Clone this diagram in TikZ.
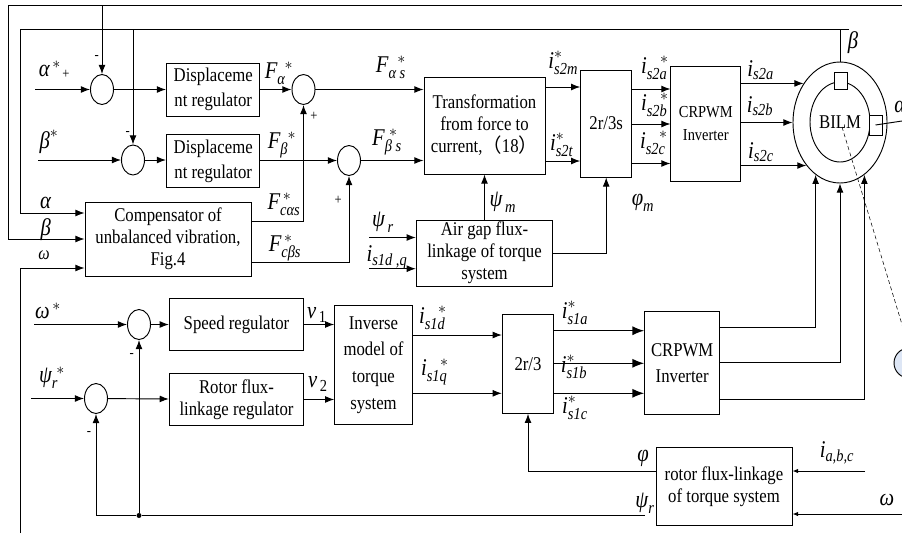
\documentclass[tikz,border=0pt]{standalone}
\usepackage{amsmath}
\usepackage{fontspec}
\setmainfont{Liberation Serif}[FakeStretch=0.86]
\newfontfamily\cjk{Noto Sans CJK SC}
\usetikzlibrary{arrows.meta,positioning,shapes.geometric}
\definecolor{BubbleBlue}{HTML}{DDE6F5}
\newcommand{\symb}[1]{\textit{#1}}
\begin{document}
\begin{tikzpicture}[
        x=0.75pt,y=-0.75pt,
        line width=0.7pt,
        boxsize/.style 2 args={minimum width=#1*0.75pt,minimum height=#2*0.75pt},
        box/.style={draw,inner sep=0pt,align=center,font=\fontsize{14.6}{16.5}\selectfont},
        sumnode/.style={draw,ellipse,inner sep=0pt,boxsize={23}{30}},
        lab/.style={inner sep=0pt,font=\fontsize{18}{18}\selectfont},
        sign/.style={inner sep=0pt,font=\fontsize{11}{11}\selectfont},
        arr/.style={-{Latex[length=2.4mm,width=1.8mm]}},
        arrs/.style={-{Latex[length=1.5mm,width=1.2mm]}},
        arrb/.style={-{Latex[length=3.1mm,width=2.4mm]},line width=1.1pt},
        dashline/.style={densely dashed,line width=0.4pt}
      ]
        \useasboundingbox (0,0) rectangle (902,533);
        \clip (0,0) rectangle (902,533);
        \coordinate (outerNW) at (8,5.5);
        \coordinate (outerNE) at (902,5.5);
        \coordinate (innerNW) at (20.5,29);
        \coordinate (innerNE) at (849,29);
        \coordinate (omegaFoot) at (20.5,533);
        \coordinate (alphaIn) at (35,89.5);
        \coordinate (betaIn) at (38,160);
        \coordinate (psiIn) at (369,237.5);
        \coordinate (iqIn) at (369,268.7);
        \coordinate (omegaRef) at (34,324.5);
        \coordinate (psiRef) at (31,398.5);
        \coordinate (psiEnd) at (645,515.5);
        \coordinate (iabcIn) at (865,471);
        \coordinate (omegaIn) at (902,514);
        \coordinate (alphaOut) at (902,121);

        \node[sumnode] (sumA) at (102,89.5) {};
        \node[sumnode] (sumB) at (133,160) {};
        \node[sumnode] (sumFa) at (303.5,89.5) {};
        \node[sumnode] (sumFb) at (349,160.5) {};
        \node[sumnode] (sumS) at (139,324.5) {};
        \node[sumnode] (sumR) at (96,398.5) {};

        \node[box,boxsize={93.5}{53},font=\fontsize{14.6}{19}\selectfont] (disp1) at (213.2,89.5) {Displaceme\\nt regulator};
        \node[box,boxsize={93.5}{53},font=\fontsize{14.6}{19}\selectfont,below=13.5pt of disp1] (disp2) {Displaceme\\nt regulator};
        \node[box,boxsize={166}{74}] (comp) at (168,239) {Compensator of\\unbalanced vibration,\\Fig.4};
        \node[box,boxsize={121}{97}] (transform) at (484.5,125.5) {Transformation\\from force to\\current,{\cjk （}18{\cjk ）}};
        \node[box,boxsize={136.5}{66}] (airgap) at (484.5,253) {Air gap flux-\\linkage of torque\\system};
        \node[box,boxsize={51}{107}] (r2s) at (606.2,123.5) {2r/3s};
        \node[box,boxsize={69.7}{115},font=\fontsize{12.6}{17}\selectfont] (crpA) at (705.8,123.5) {CRPWM\\Inverter};
        \node[box,boxsize={134.4}{52.7}] (speed) at (236.5,324.5) {Speed regulator};
        \node[box,boxsize={134.4}{52.7},below=16pt of speed] (rotorReg) {Rotor flux-\\linkage regulator};
        \node[box,boxsize={77.6}{118.6},font=\fontsize{14.6}{20}\selectfont] (inverse) at (373.5,365) {Inverse\\model of\\torque\\system};
        \node[box,boxsize={51.4}{99}] (r23) at (528,363.8) {2r/3};
        \node[box,boxsize={75}{103.3},font=\fontsize{14.6}{20}\selectfont] (crpB) at (682.2,363.3) {CRPWM\\Inverter};
        \node[box,boxsize={136}{78}] (rotorEst) at (724,486.7) {rotor flux-linkage\\of torque system};

        \node[draw,ellipse,inner sep=0pt,boxsize={94}{121}] (motor) at (840,122.5) {};
        \node[draw,ellipse,inner sep=0pt,boxsize={60}{80},font=\fontsize{14.6}{15}\selectfont] (motorIn) at (840,122) {BILM};
        \node[draw,fill=white,inner sep=0pt,boxsize={13}{17}] (slotTop) at (840.5,80.5) {};
        \node[draw,fill=white,inner sep=0pt,boxsize={13}{20}] (slotRight) at (875.5,125) {};
        \node[draw,circle,fill=BubbleBlue,inner sep=0pt,boxsize={30}{30}] (bubble) at (909,363) {};
        \node[circle,fill=black,inner sep=0pt,boxsize={5}{5}] (fbDot) at (sumS.south|-psiEnd) {};

        \draw (outerNE) -- (outerNW);
        \draw[arr] (outerNW) |- (comp.west|-0,239);
        \draw (innerNE) -- (innerNW);
        \draw[arr] (innerNW) |- (comp.west|-0,213);
        \draw[arr] (omegaFoot) |- (comp.west|-0,268);
        \draw[arr] (sumA.north|-outerNW) -- (sumA.north);
        \draw[arr] (sumB.north|-innerNW) -- (sumB.north);
        \draw (motor.north) -- (motor.north|-innerNW);
        \draw (slotRight.center) -- (alphaOut);
        \draw[dashline] ([shift={(2,5)}]motorIn.center) -- (bubble.north);

        \draw[arr] (alphaIn) -- (sumA);
        \draw[arr] (sumA) -- (disp1);
        \draw[arr] (disp1) -- (sumFa);
        \draw[arr] (sumFa) -- (transform.west|-sumFa);
        \draw[arr] (betaIn) -- (sumB);
        \draw[arr] (sumB) -- (disp2.west|-sumB);
        \draw[arr] (disp2.east|-sumFb) -- (sumFb);
        \draw[arr] (sumFb) -- (transform.west|-sumFb);
        \draw[arr] (comp.east|-0,221.5) -| (sumFa.south);
        \draw[arr] (comp.east|-0,262) -| (sumFb.south);
        \draw[arr] (psiIn) -- (airgap.west|-psiIn);
        \draw[arr] (iqIn) -- (airgap.west|-iqIn);
        \draw[arr] (airgap.north) -- (transform.south);
        \draw[arr] (airgap.east) -| (r2s.south);
        \draw[arr] (transform.east|-0,87) -- (r2s.west|-0,87);
        \draw[arr] (transform.east|-0,161) -- (r2s.west|-0,161);
        \draw[arr] (r2s.east|-0,89) -- (crpA.west|-0,89);
        \draw[arr] (r2s.east|-0,124) -- (crpA.west|-0,124);
        \draw[arr] (r2s.east|-0,163.5) -- (crpA.west|-0,163.5);
        \draw[arr] (crpA.east|-motor.133) -- (motor.133);
        \draw[arr] (crpA.east|-motor.west) -- (motor.west);
        \draw[arr] (crpA.east|-motor.232) -- (motor.232);

        \draw[arr] (omegaRef) -- (sumS);
        \draw[arr] (sumS) -- (speed);
        \draw[arr] (psiRef) -- (sumR);
        \draw[arr] (sumR) -- (rotorReg);
        \draw[arr] (speed.east) -- (inverse.west|-speed);
        \draw[arr] (rotorReg.east) -- (inverse.west|-rotorReg);
        \draw[arr] (inverse.east|-0,335) -- (r23.west|-0,335);
        \draw[arr] (inverse.east|-0,393.3) -- (r23.west|-0,393.3);
        \draw[arrb] (r23.east|-0,330.7) -- (crpB.west|-0,330.7);
        \draw[arrb] (r23.east|-0,363.3) -- (crpB.west|-0,363.3);
        \draw[arrb] (r23.east|-0,393.3) -- (crpB.west|-0,393.3);
        \draw[arr] (crpB.east|-0,327.3) -| (motor.245);
        \draw[arr] (crpB.east|-0,362.7) -| (motor.south);
        \draw[arr] (crpB.east|-0,399.3) -| (motor.295);
        \draw[arr] (rotorEst.west|-0,471) -| (r23.south);
        \draw[arrs] (iabcIn) -- (rotorEst.east|-iabcIn);
        \draw[arrs] (omegaIn) -- (rotorEst.east|-omegaIn);
        \draw (psiEnd) -- (fbDot);
        \draw[arr] (fbDot) -| (sumR.south);
        \draw[arr] (fbDot) -- (sumS.south);

        \node[lab] (lAlphaRef) at (50,69) {$\symb{α}^{\,*}$};
        \node[sign] (pA) at (66,74) {+};
        \node[sign] (mA) at (96.7,57.3) {-};
        \node[lab] (lFa) at (279,73) {$\symb{F}_{\symb{α}}^{\;\,*}$};
        \node[sign] (pFa) at (314,116.7) {+};
        \node[lab] (lFas) at (391,67) {$\symb{F}_{\symb{α s}}^{\;\;*}$};
        \node[lab] (lBetaRef) at (49,142) {$\symb{β}^{*}$};
        \node[sign] (mB) at (127.7,133) {-};
        \node[lab] (lFb) at (282,145) {$\symb{F}_{\symb{β}}^{\;\,*}$};
        \node[lab] (lFbs) at (387,142) {$\symb{F}_{\symb{β s}}^{\;*}$};
        \node[lab] (lFca) at (284,204) {$\symb{F}_{\symb{cαs}}^{\,*}$};
        \node[lab] (lFcb) at (285,248) {$\symb{F}_{\symb{cβs}}^{\,*}$};
        \node[sign] (pFb) at (338.3,200) {+};
        \node[lab] (lAlpha) at (45.7,203) {\symb{α}};
        \node[lab] (lBeta) at (45.7,230) {\symb{β}};
        \node[lab,font=\fontsize{14}{14}\selectfont] (lOmega) at (44,255) {\symb{ω}};
        \node[lab] (lPsi) at (383,222) {$\symb{ψ}_{\,\symb{r}}$};
        \node[lab] (liq) at (387,257) {$\symb{i}_{\symb{s1d ,q}}$};
        \node[lab] (lPsim) at (503,202) {$\symb{ψ}_{\,\symb{m}}$};
        \node[lab] (lis2m) at (563.3,63) {$\symb{i}_{\symb{s2m}}^{*}$};
        \node[lab] (lis2t) at (561.7,145) {$\symb{i}_{\symb{s2t}}^{*}$};
        \node[lab] (lis2as) at (655,68) {$\symb{i}_{\symb{s2a}}^{\;\;\;*}$};
        \node[lab] (lis2bs) at (655,105) {$\symb{i}_{\symb{s2b}}^{\;\;\;*}$};
        \node[lab] (lis2cs) at (654,143) {$\symb{i}_{\symb{s2c}}^{\;\;\;*}$};
        \node[lab] (lis2a) at (760.7,70) {$\symb{i}_{\symb{s2a}}$};
        \node[lab] (lis2b) at (760,106) {$\symb{i}_{\symb{s2b}}$};
        \node[lab] (lis2c) at (761,152) {$\symb{i}_{\symb{s2c}}$};
        \node[lab] (lBetaM) at (853,43) {\symb{β}};
        \node[lab,anchor=west] (lAlphaM) at (894,107) {\symb{α}};
        \node[lab] (lPhim) at (643,203) {$\symb{φ}_{\symb{m}}$};

        \node[lab] (lOmegaRef) at (48,311) {$\symb{ω}^{\,*}$};
        \node[lab] (lPsiRef) at (52,378) {$\symb{ψ}_{\symb{r}}^{\;*}$};
        \node[sign] (mS) at (131.7,355) {-};
        \node[sign] (mR) at (89,433) {-};
        \node[lab] (lv1) at (317,315) {$\symb{v}_{\,\text{1}}$};
        \node[lab] (lv2) at (318,384) {$\symb{v}_{\,\text{2}}$};
        \node[lab] (lis1d) at (433,318) {$\symb{i}_{\symb{s1d}}^{\;\;\;*}$};
        \node[lab] (lis1q) at (435,372) {$\symb{i}_{\symb{s1q}}^{\;\;\;*}$};
        \node[lab] (lis1a) at (575,313) {$\symb{i}_{\symb{s1a}}^{*}$};
        \node[lab] (lis1b) at (574,367) {$\symb{i}_{\symb{s1b}}^{*}$};
        \node[lab] (lis1c) at (575,408) {$\symb{i}_{\symb{s1c}}^{*}$};
        \node[lab] (lPhi) at (643,458) {\symb{φ}};
        \node[lab] (lPsir) at (645,503) {$\symb{ψ}_{\symb{r}}$};
        \node[lab] (liabc) at (837,453) {$\symb{i}_{\symb{a,b,c}}$};
        \node[lab] (lOmegaM) at (887,500) {\symb{ω}};
      \end{tikzpicture}
\end{document}
